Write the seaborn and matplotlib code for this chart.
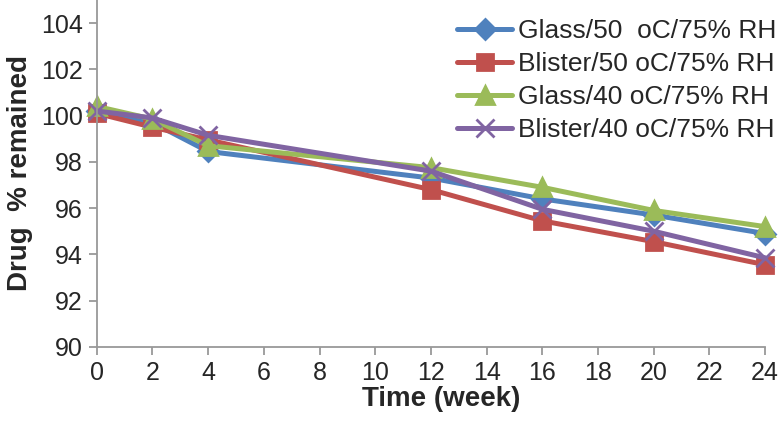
import pandas as pd
import matplotlib.pyplot as plt
import seaborn as sns

weeks = [0, 2, 4, 12, 16, 20, 24]
glass_50 = [100.2, 99.7, 98.45, 97.3, 96.4, 95.7, 94.9]
blister_50 = [100.1, 99.5, 98.95, 96.8, 95.45, 94.55, 93.55]
glass_40 = [100.4, 99.85, 98.7, 97.75, 96.9, 95.9, 95.2]
blister_40 = [100.2, 99.9, 99.15, 97.6, 95.95, 95.0, 93.85]

series_names = ["Glass/50  oC/75% RH", "Blister/50 oC/75% RH",
                "Glass/40 oC/75% RH", "Blister/40 oC/75% RH"]
series_vals = [glass_50, blister_50, glass_40, blister_40]
colors = ["#4F81BD", "#C0504D", "#9BBB59", "#8064A2"]
markers = ["D", "s", "^", "x"]
msizes = [10, 12, 13, 13]

sns.set_style("ticks")
plt.rcParams['font.family'] = ['Liberation Sans', 'DejaVu Sans']

fig, ax = plt.subplots(figsize=(7.8, 4.22), dpi=100)
fig.subplots_adjust(left=0.124, right=0.981, bottom=0.178, top=1.0)

for name, vals, c, m, ms in zip(series_names, series_vals, colors, markers, msizes):
    d = pd.DataFrame({"week": weeks, "drug": vals})
    sns.lineplot(data=d, x="week", y="drug", color=c, marker=m,
                 markersize=ms, markeredgecolor=c, markeredgewidth=2,
                 linewidth=3.6, clip_on=False, label=name, ax=ax)

ax.set_xlim(0, 24)
ax.set_ylim(90, 105)
ax.set_xticks(range(0, 25, 2))
ax.set_yticks(range(90, 105, 2))
ax.tick_params(labelsize=18, color="#999999", length=6, width=1.3, pad=4)
for s in ["top", "right"]:
    ax.spines[s].set_visible(False)
for s in ["left", "bottom"]:
    ax.spines[s].set_color("#999999")
    ax.spines[s].set_linewidth(1.3)

ax.set_xlabel("Time (week)", fontsize=20, fontweight="bold")
ax.xaxis.set_label_coords(0.516, -0.112)
ax.set_ylabel("Drug  % remained", fontsize=20, fontweight="bold", labelpad=6)

leg = ax.legend(loc="upper right", bbox_to_anchor=(776 / 780, 1 - 19 / 422),
                bbox_transform=fig.transFigure, frameon=False,
                fontsize=19, handlelength=2.1, handletextpad=0.2,
                labelspacing=0.34, borderaxespad=0, borderpad=0)

plt.savefig("out.png", dpi=100)
